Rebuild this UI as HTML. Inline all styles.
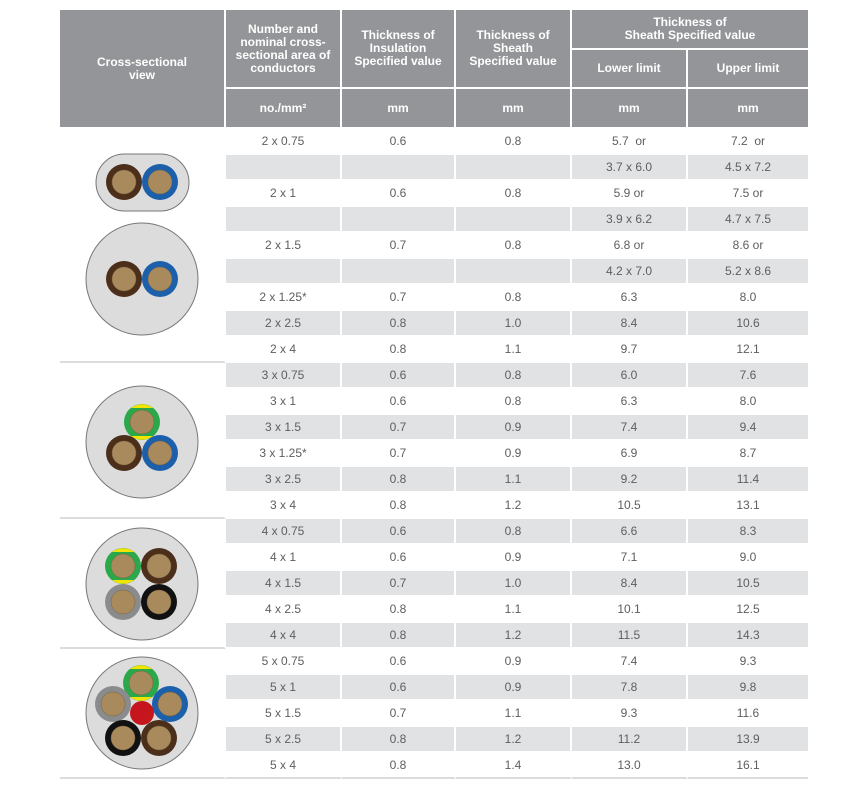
<!DOCTYPE html>
<html><head><meta charset="utf-8">
<style>
html,body{margin:0;padding:0;background:#fff;width:852px;height:787px;overflow:hidden;}
table{position:absolute;left:60px;top:10px;border-collapse:separate;border-spacing:0;table-layout:fixed;width:748px;font-family:"Liberation Sans",sans-serif;}
td,th{padding:0;text-align:center;vertical-align:middle;}
th{background:#939598;color:#fff;font-weight:bold;font-size:12px;line-height:13px;border-right:2px solid #fff;border-bottom:2px solid #fff;}
th.l{border-right:none;}
td{font-size:12px;color:#5e5e5e;height:24px;border-right:2px solid #fff;border-bottom:2px solid #fff;}
td.last{border-right:none;}
tr.g td.c{background:#e1e2e3;}
td.v{background:#fff;border-bottom:2px solid #dcdcdc;}
tr.end td{border-bottom:2px solid #dcdcdc;}
svg{position:absolute;left:0;top:0;}
</style></head><body>
<table>
<colgroup><col style="width:166px"><col style="width:116px"><col style="width:114px"><col style="width:116px"><col style="width:116px"><col style="width:120px"></colgroup>
<tr style="height:40px"><th rowspan="3">Cross-sectional<br>view</th><th rowspan="2">Number and<br>nominal cross-<br>sectional area of<br>conductors</th><th rowspan="2">Thickness of<br>Insulation<br>Specified value</th><th rowspan="2">Thickness of<br>Sheath<br>Specified value</th><th colspan="2" class="l" style="height:38px">Thickness of<br>Sheath Specified value</th></tr>
<tr style="height:39px"><th style="height:37px">Lower limit</th><th class="l">Upper limit</th></tr>
<tr style="height:40px"><th style="height:38px">no./mm²</th><th>mm</th><th>mm</th><th>mm</th><th class="l">mm</th></tr>

<tr><td class="v" rowspan="9"></td><td class="c">2 x 0.75</td><td class="c">0.6</td><td class="c">0.8</td><td class="c">5.7&nbsp; or</td><td class="c last">7.2&nbsp; or</td></tr>
<tr class="g"><td class="c"></td><td class="c"></td><td class="c"></td><td class="c">3.7 x 6.0</td><td class="c last">4.5 x 7.2</td></tr>
<tr><td class="c">2 x 1</td><td class="c">0.6</td><td class="c">0.8</td><td class="c">5.9 or</td><td class="c last">7.5 or</td></tr>
<tr class="g"><td class="c"></td><td class="c"></td><td class="c"></td><td class="c">3.9 x 6.2</td><td class="c last">4.7 x 7.5</td></tr>
<tr><td class="c">2 x 1.5</td><td class="c">0.7</td><td class="c">0.8</td><td class="c">6.8 or</td><td class="c last">8.6 or</td></tr>
<tr class="g"><td class="c"></td><td class="c"></td><td class="c"></td><td class="c">4.2 x 7.0</td><td class="c last">5.2 x 8.6</td></tr>
<tr><td class="c">2 x 1.25*</td><td class="c">0.7</td><td class="c">0.8</td><td class="c">6.3</td><td class="c last">8.0</td></tr>
<tr class="g"><td class="c">2 x 2.5</td><td class="c">0.8</td><td class="c">1.0</td><td class="c">8.4</td><td class="c last">10.6</td></tr>
<tr><td class="c">2 x 4</td><td class="c">0.8</td><td class="c">1.1</td><td class="c">9.7</td><td class="c last">12.1</td></tr>

<tr class="g"><td class="v" rowspan="6"></td><td class="c">3 x 0.75</td><td class="c">0.6</td><td class="c">0.8</td><td class="c">6.0</td><td class="c last">7.6</td></tr>
<tr><td class="c">3 x 1</td><td class="c">0.6</td><td class="c">0.8</td><td class="c">6.3</td><td class="c last">8.0</td></tr>
<tr class="g"><td class="c">3 x 1.5</td><td class="c">0.7</td><td class="c">0.9</td><td class="c">7.4</td><td class="c last">9.4</td></tr>
<tr><td class="c">3 x 1.25*</td><td class="c">0.7</td><td class="c">0.9</td><td class="c">6.9</td><td class="c last">8.7</td></tr>
<tr class="g"><td class="c">3 x 2.5</td><td class="c">0.8</td><td class="c">1.1</td><td class="c">9.2</td><td class="c last">11.4</td></tr>
<tr><td class="c">3 x 4</td><td class="c">0.8</td><td class="c">1.2</td><td class="c">10.5</td><td class="c last">13.1</td></tr>

<tr class="g"><td class="v" rowspan="5"></td><td class="c">4 x 0.75</td><td class="c">0.6</td><td class="c">0.8</td><td class="c">6.6</td><td class="c last">8.3</td></tr>
<tr><td class="c">4 x 1</td><td class="c">0.6</td><td class="c">0.9</td><td class="c">7.1</td><td class="c last">9.0</td></tr>
<tr class="g"><td class="c">4 x 1.5</td><td class="c">0.7</td><td class="c">1.0</td><td class="c">8.4</td><td class="c last">10.5</td></tr>
<tr><td class="c">4 x 2.5</td><td class="c">0.8</td><td class="c">1.1</td><td class="c">10.1</td><td class="c last">12.5</td></tr>
<tr class="g"><td class="c">4 x 4</td><td class="c">0.8</td><td class="c">1.2</td><td class="c">11.5</td><td class="c last">14.3</td></tr>

<tr><td class="v" rowspan="5"></td><td class="c">5 x 0.75</td><td class="c">0.6</td><td class="c">0.9</td><td class="c">7.4</td><td class="c last">9.3</td></tr>
<tr class="g"><td class="c">5 x 1</td><td class="c">0.6</td><td class="c">0.9</td><td class="c">7.8</td><td class="c last">9.8</td></tr>
<tr><td class="c">5 x 1.5</td><td class="c">0.7</td><td class="c">1.1</td><td class="c">9.3</td><td class="c last">11.6</td></tr>
<tr class="g"><td class="c">5 x 2.5</td><td class="c">0.8</td><td class="c">1.2</td><td class="c">11.2</td><td class="c last">13.9</td></tr>
<tr class="end"><td class="c">5 x 4</td><td class="c">0.8</td><td class="c">1.4</td><td class="c">13.0</td><td class="c last">16.1</td></tr>
</table>

<svg width="852" height="787" viewBox="0 0 852 787">
<defs>
<g id="cu"><circle r="12" fill="#a98a5c" stroke="#7a6240" stroke-width="0.5"/></g>
</defs>
<g stroke="#777" stroke-width="1" fill="#dcdcdd">
<rect x="96" y="154" width="93" height="57" rx="28.5"/>
<circle cx="142" cy="279" r="56"/>
<circle cx="142" cy="442" r="56"/>
<circle cx="142" cy="584" r="56"/>
<circle cx="142" cy="713" r="56"/>
</g>
<circle cx="124" cy="182" r="18" fill="#4b2f1a"/><use href="#cu" x="124" y="182"/>
<circle cx="160" cy="182" r="18" fill="#1c5fab"/><use href="#cu" x="160" y="182"/>
<circle cx="124" cy="279" r="18" fill="#4b2f1a"/><use href="#cu" x="124" y="279"/>
<circle cx="160" cy="279" r="18" fill="#1c5fab"/><use href="#cu" x="160" y="279"/>
<circle cx="142" cy="422" r="18" fill="#2aa84a"/>
<path d="M131 408 A18 18 0 0 1 153 408 Z M131 436 A18 18 0 0 0 153 436 Z" fill="#f2e400"/>
<use href="#cu" x="142" y="422"/>
<circle cx="124" cy="453" r="18" fill="#4b2f1a"/><use href="#cu" x="124" y="453"/>
<circle cx="160" cy="453" r="18" fill="#1c5fab"/><use href="#cu" x="160" y="453"/>
<circle cx="123" cy="566" r="18" fill="#2aa84a"/>
<path d="M112 552 A18 18 0 0 1 134 552 Z M112 580 A18 18 0 0 0 134 580 Z" fill="#f2e400"/>
<use href="#cu" x="123" y="566"/>
<circle cx="159" cy="566" r="18" fill="#4b2f1a"/><use href="#cu" x="159" y="566"/>
<circle cx="123" cy="602" r="18" fill="#8a8b8d"/><use href="#cu" x="123" y="602"/>
<circle cx="159" cy="602" r="18" fill="#111"/><use href="#cu" x="159" y="602"/>
<circle cx="141" cy="683" r="18" fill="#2aa84a"/>
<path d="M130 669 A18 18 0 0 1 152 669 Z M130 697 A18 18 0 0 0 152 697 Z" fill="#f2e400"/>
<use href="#cu" x="141" y="683"/>
<circle cx="113" cy="704" r="18" fill="#8a8b8d"/><use href="#cu" x="113" y="704"/>
<circle cx="170" cy="704" r="18" fill="#1c5fab"/><use href="#cu" x="170" y="704"/>
<circle cx="142" cy="713" r="12" fill="#c4161c"/>
<circle cx="123" cy="738" r="18" fill="#111"/><use href="#cu" x="123" y="738"/>
<circle cx="159" cy="738" r="18" fill="#4b2f1a"/><use href="#cu" x="159" y="738"/>
</svg>
</body></html>
